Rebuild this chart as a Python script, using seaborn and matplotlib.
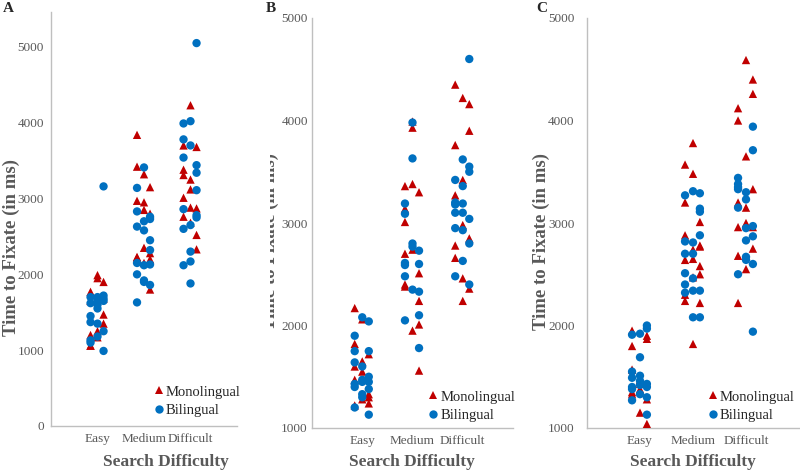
import numpy as np
import pandas as pd
import matplotlib
matplotlib.use("Agg")
import matplotlib.pyplot as plt
import seaborn as sns
from matplotlib.transforms import Bbox, TransformedBbox

# Categories and groups
difficulty = ["Easy", "Medium", "Difficult"]
groups = ["Monolingual", "Bilingual"]

# Panel A (time to fixate, ms)
a_easy_mono = [1060, 1990, 1900, 1770, 1950, 1350, 1650, 1250, 1680, 1200, 1170, 1470, 1060]
a_easy_bi = [1700, 1650, 3160, 1620, 1600, 1720, 1450, 1550, 1680, 1370, 1350, 1250, 1130, 1180, 990, 1100, 1700, 1650]
a_med_mono = [3840, 2950, 3150, 3420, 3320, 2800, 2970, 2850, 2200, 2220, 2350, 2280, 2230, 2150, 1800]
a_med_bi = [3140, 3410, 2760, 2830, 2700, 2730, 2630, 2580, 2450, 2150, 2120, 2320, 2000, 1920, 2130, 1630, 1900, 1860]
a_dif_mono = [3700, 4230, 3680, 3380, 3250, 2870, 3310, 3120, 2520, 3010, 2680, 2330, 2760, 2880]
a_dif_bi = [3990, 4020, 5050, 3780, 3700, 3440, 3540, 2650, 3340, 2860, 2300, 3110, 2600, 2170, 2780, 2120, 1880, 2750]

# Panel B
b_easy_mono = [2170, 1650, 1720, 1820, 1550, 1330, 1600, 1280, 1240, 1470, 2060, 1300, 1220]
b_easy_bi = [1900, 2080, 2040, 1750, 1600, 1750, 1640, 1470, 1500, 1430, 1450, 1380, 1400, 1330, 1130, 1200, 1300, 1450]
b_med_mono = [3360, 3990, 3300, 3140, 3930, 2510, 3010, 3380, 2240, 2380, 2740, 2010, 2400, 1950, 1560, 2700]
b_med_bi = [3190, 3980, 2730, 3090, 3630, 2600, 2480, 2800, 2330, 2610, 2770, 2100, 2050, 2350, 1780, 2590]
b_dif_mono = [4350, 4220, 4160, 3760, 3420, 3900, 3270, 2980, 2850, 2780, 2460, 2360, 2660, 2240]
b_dif_bi = [3420, 3620, 4600, 3200, 3360, 3550, 3180, 3190, 3500, 3100, 3100, 3040, 2950, 2930, 2800, 2480, 2630, 2400]

# Panel C
c_easy_mono = [1950, 1470, 1870, 1800, 1430, 1280, 1570, 1380, 1040, 1330, 1150, 1900, 1350]
c_easy_bi = [1910, 1920, 2000, 1550, 1690, 1970, 1490, 1460, 1430, 1400, 1510, 1300, 1270, 1420, 1130, 1380, 1330, 1400]
c_med_mono = [3570, 3780, 3010, 3200, 3480, 2780, 2880, 2740, 2770, 2640, 2650, 2580, 2300, 2470, 2220, 2240, 1820, 2500]
c_med_bi = [3270, 3310, 3290, 2820, 2700, 3140, 2700, 2810, 3110, 2510, 2460, 2880, 2320, 2340, 2340, 2400, 2080, 2080]
c_dif_mono = [4120, 4590, 4400, 4000, 3650, 4260, 3200, 3150, 3330, 2960, 3000, 2750, 2680, 2550, 2960, 2220]
c_dif_bi = [3440, 3300, 3940, 3380, 3230, 3710, 3350, 2670, 2970, 3150, 2640, 2870, 2500, 2830, 2600, 3330, 2950, 1940]

panels = {
    "A": {"Easy": (a_easy_mono, a_easy_bi), "Medium": (a_med_mono, a_med_bi), "Difficult": (a_dif_mono, a_dif_bi)},
    "B": {"Easy": (b_easy_mono, b_easy_bi), "Medium": (b_med_mono, b_med_bi), "Difficult": (b_dif_mono, b_dif_bi)},
    "C": {"Easy": (c_easy_mono, c_easy_bi), "Medium": (c_med_mono, c_med_bi), "Difficult": (c_dif_mono, c_dif_bi)},
}

# points sit in three narrow columns around each category
col_offsets = [-0.15, 0.0, 0.13]

rows = []
for panel, cats in panels.items():
    for ci, cat in enumerate(difficulty):
        for group, vals in zip(groups, cats[cat]):
            for i, v in enumerate(vals):
                rows.append({"panel": panel, "x": ci + 1 + col_offsets[i % 3],
                             "group": group, "value": v})
df = pd.DataFrame(rows)

sns.set_theme(style="white")
plt.rcParams["font.family"] = ["Liberation Serif", "DejaVu Serif"]

gray = "#595959"
axis_gray = "#BFBFBF"
palette = {"Monolingual": "#C00000", "Bilingual": "#0070C0"}
markers = {"Monolingual": "^", "Bilingual": "o"}

fig = plt.figure(figsize=(8, 4.71), dpi=100)
W, H = 800, 471

# axes boxes in pixels: (left, right, bottom, top)
boxes = {"A": (51, 237, 426, 12), "B": (312, 513, 428, 18), "C": (587, 799, 428, 18)}
ylims = {"A": (0, 5460), "B": (1000, 5000), "C": (1000, 5000)}
ytick_pad = {"A": 5, "B": 3, "C": 9}
# label anchors in pixels: ylabel right edge / centre, xlabel centre
ylab_px = {"A": (20, 247), "B": (279, 242), "C": (550, 242)}
xlab_cx = {"A": 166, "B": 412, "C": 693}
legend_anchor = {"A": (1.02, 0.022), "B": (1.01, 0.015), "C": (0.98, 0.015)}
letter_x = {"A": 3, "B": 266, "C": 536}

for panel in ["A", "B", "C"]:
    l, r, b, t = boxes[panel]
    ax = fig.add_axes([l / W, 1 - b / H, (r - l) / W, (b - t) / H])
    sub = df[df.panel == panel]
    sns.scatterplot(data=sub, x="x", y="value", hue="group", style="group",
                    hue_order=groups, style_order=groups,
                    palette=palette, markers=markers, s=36, linewidth=0,
                    ax=ax, zorder=3)
    ax.set_xlim(0, 4)
    ax.set_ylim(*ylims[panel])
    ax.set_yticks(np.arange(ylims[panel][0], 5001, 1000))
    ax.set_xticks([0, 1, 2, 3, 4])
    ax.set_xticklabels(["", "Easy", "Medium", "Difficult", ""])
    ax.tick_params(axis="x", length=3, color=axis_gray, labelsize=9.5, labelcolor=gray, pad=2)
    ax.tick_params(axis="y", length=0, labelsize=9.5, labelcolor=gray, pad=ytick_pad[panel])
    for side in ["top", "right"]:
        ax.spines[side].set_visible(False)
    for side in ["left", "bottom"]:
        ax.spines[side].set_color(axis_gray)
        ax.spines[side].set_linewidth(1)
    ax.set_xlabel("Search Difficulty", fontsize=12.5, fontweight="bold", color=gray)
    ax.set_ylabel("Time to Fixate (in ms)", fontsize=13.5, fontweight="bold", color=gray)
    yx, yy = ylab_px[panel]
    ax.yaxis.set_label_coords((yx - l) / (r - l), (b - yy) / (b - t))
    ax.xaxis.set_label_coords((xlab_cx[panel] - l) / (r - l), -(454 - b) / (b - t))
    sns.move_legend(ax, "lower right", bbox_to_anchor=legend_anchor[panel],
                    frameon=False, title=None, fontsize=10.5,
                    handlelength=0.5, handletextpad=0.25, labelspacing=0.35,
                    borderaxespad=0, borderpad=0)
    fig.text(letter_x[panel] / W, 1 - 9 / H, panel, fontsize=11, fontweight="bold",
             va="center", ha="left")
    if panel == "B":
        # the panel B axis title is cut off at the panel border in the figure
        lab = ax.yaxis.label
        lab.set_clip_box(TransformedBbox(Bbox([[270 / W, 0], [1, 1]]), fig.transFigure))
        lab.set_clip_on(True)

fig.savefig("out.png", dpi=100)
